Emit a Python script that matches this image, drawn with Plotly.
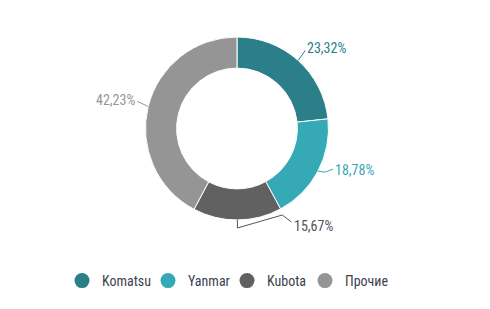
import math
import plotly.graph_objects as go

categories = ["Komatsu", "Yanmar", "Kubota", "Прочие"]
values = [23.32, 18.78, 15.67, 42.23]
colors = ["#2a7f88", "#35a9b6", "#616161", "#959595"]
label_colors = ["#2a7f88", "#35a9b6", "#4f5560", "#959595"]

W, H = 490, 309
CX, CY, R = 237, 128.5, 91.5
FONT = "Liberation Sans Narrow, Roboto Condensed, Arial Narrow, sans-serif"
LEGEND_X = [82, 168, 247, 325]  # legend marker centres (px)

def px(x):
    return x / W

def py(y):
    return 1 - y / H

fig = go.Figure()
fig.add_trace(go.Pie(
    labels=categories, values=values, sort=False, direction="clockwise",
    rotation=0, hole=0.66, textinfo="none", hoverinfo="label+percent",
    marker=dict(colors=colors, line=dict(color="#ffffff", width=1)),
    showlegend=False,
    domain=dict(x=[px(CX - R), px(CX + R)], y=[py(CY + R), py(CY - R)]),
))

legends = {}
for i, (name, c, lx) in enumerate(zip(categories, colors, LEGEND_X)):
    key = "legend" if i == 0 else f"legend{i + 1}"
    fig.add_trace(go.Scatter(x=[None], y=[None], mode="markers", name=name,
                             legend=key,
                             marker=dict(color=c, size=15, symbol="circle")))
    legends[key] = dict(orientation="h", x=px(lx - 20), xanchor="left",
                        y=py(281), yanchor="middle",
                        font=dict(family=FONT, size=14, color="#3d3f4e"),
                        bgcolor="rgba(0,0,0,0)", borderwidth=0)

# label layout (pixel offsets relative to the slice's outer mid-point)
label_style = [
    dict(path=[(0, 0), (7, -10)], text=(7, -12), xanchor="left"),
    dict(path=[(0, 0), (7, 1), (15, -2)], text=(15, -1), xanchor="left"),
    dict(path=[(0, 0), (0, 8), (45, -5), (54, 2)], text=(55, 6), xanchor="left"),
    dict(path=[(0, 0), (-11, -5)], text=(-11, -6), xanchor="right"),
]

total = sum(values)
cum = 0
shapes = []
annotations = []
for v, lc, st in zip(values, label_colors, label_style):
    mid = (cum + v / 2) / total * 2 * math.pi
    cum += v
    ax = CX + R * math.sin(mid)
    ay = CY - R * math.cos(mid)
    pts = [(ax + dx, ay + dy) for dx, dy in st["path"]]
    path = "M " + " L ".join(f"{px(x):.5f},{py(y):.5f}" for x, y in pts)
    shapes.append(dict(type="path", xref="paper", yref="paper", path=path,
                       line=dict(color=lc, width=1)))
    tx, ty = ax + st["text"][0], ay + st["text"][1]
    annotations.append(dict(
        x=px(tx), y=py(ty), xref="paper", yref="paper", showarrow=False,
        text=f"{v:.2f}".replace(".", ",") + "%", xanchor=st["xanchor"],
        yanchor="middle", font=dict(family=FONT, size=14, color=lc)))

fig.update_layout(
    width=W, height=H, margin=dict(l=0, r=0, t=0, b=0),
    paper_bgcolor="#ffffff", plot_bgcolor="#ffffff",
    xaxis=dict(visible=False), yaxis=dict(visible=False),
    shapes=shapes, annotations=annotations,
    **legends,
)

fig.write_html("out.html")
